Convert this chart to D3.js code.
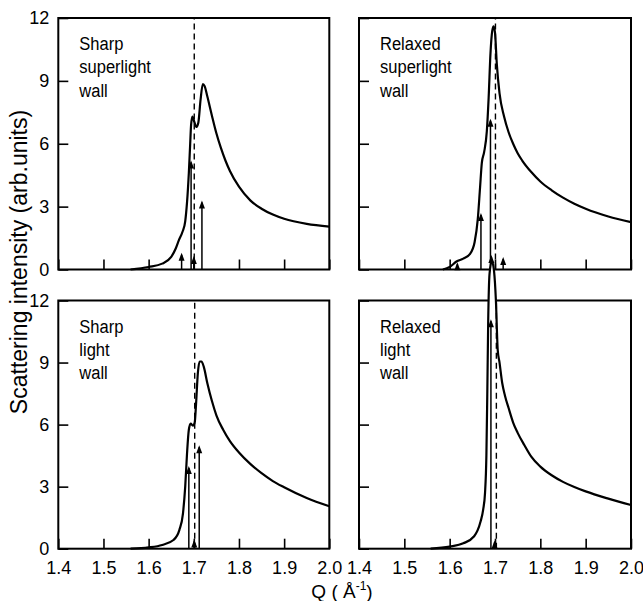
<!DOCTYPE html>
<html><head><meta charset="utf-8">
<script src="https://cdn.jsdelivr.net/npm/d3@7/dist/d3.min.js"></script>
<style>body{margin:0;background:#fff}</style>
</head><body>
<svg id="c" width="643" height="601"></svg>
<script>
// ---------- data ----------
const xTicks = [1.4, 1.5, 1.6, 1.7, 1.8, 1.9, 2.0];
const yTicks = [0, 3, 6, 9, 12];
const xTickLabels = ["1.4", "1.5", "1.6", "1.7", "1.8", "1.9", "2.0"];
const yTickLabels = ["0", "3", "6", "9", "12"];
const panelNames = [
  ["Sharp", "superlight", "wall"],
  ["Relaxed", "superlight", "wall"],
  ["Sharp", "light", "wall"],
  ["Relaxed", "light", "wall"]
];

// Sharp superlight wall
const qSharpSuper = [1.56, 1.60, 1.63, 1.65, 1.66, 1.667, 1.675, 1.681, 1.685, 1.689, 1.692, 1.694, 1.697, 1.701, 1.706, 1.710, 1.715, 1.720, 1.724, 1.730, 1.740, 1.750, 1.760, 1.770, 1.780, 1.800, 1.825, 1.850, 1.875, 1.900, 1.950, 2.000];
const iSharpSuper = [0, 0.12, 0.28, 0.6, 1.0, 1.4, 1.8, 2.3, 3.2, 4.6, 6.0, 6.9, 7.3, 7.05, 6.8, 7.0, 8.1, 8.85, 8.75, 8.25, 7.35, 6.5, 5.8, 5.2, 4.7, 3.95, 3.3, 2.9, 2.62, 2.42, 2.18, 2.05];
const sqSharpSuper = [1.673, 1.694, 1.700, 1.718];
const siSharpSuper = [0.7, 5.1, 0.55, 3.2];

// Relaxed superlight wall
const qRelaxSuper = [1.585, 1.60, 1.615, 1.63, 1.645, 1.655, 1.662, 1.667, 1.671, 1.676, 1.682, 1.686, 1.690, 1.694, 1.697, 1.700, 1.704, 1.710, 1.720, 1.730, 1.740, 1.750, 1.760, 1.780, 1.800, 1.825, 1.850, 1.875, 1.900, 1.950, 2.000];
const iRelaxSuper = [0, 0.12, 0.38, 0.52, 0.75, 1.3, 2.4, 3.9, 5.1, 5.6, 6.6, 8.2, 10.3, 11.4, 11.6, 11.3, 9.8, 8.4, 7.3, 6.55, 6.0, 5.55, 5.2, 4.65, 4.2, 3.78, 3.43, 3.14, 2.9, 2.53, 2.26];
const sqRelaxSuper = [1.617, 1.669, 1.690, 1.692, 1.718];
const siRelaxSuper = [0.25, 2.6, 7.1, 0.6, 0.5];

// Sharp light wall
const qSharpLight = [1.56, 1.60, 1.63, 1.655, 1.668, 1.676, 1.681, 1.685, 1.689, 1.693, 1.698, 1.702, 1.705, 1.709, 1.713, 1.717, 1.722, 1.730, 1.740, 1.750, 1.765, 1.780, 1.800, 1.825, 1.850, 1.875, 1.900, 1.950, 2.000];
const iSharpLight = [0, 0.06, 0.18, 0.42, 0.9, 1.7, 3.0, 4.6, 5.75, 6.05, 5.95, 6.1, 7.0, 8.5, 9.05, 9.05, 8.8, 8.0, 7.15, 6.45, 5.75, 5.2, 4.65, 4.1, 3.65, 3.27, 2.97, 2.45, 2.05];
const sqSharpLight = [1.689, 1.701, 1.712];
const siSharpLight = [3.9, 0.35, 4.9];

// Relaxed light wall
const qRelaxLight = [1.558, 1.60, 1.63, 1.654, 1.668, 1.674, 1.678, 1.681, 1.683, 1.685, 1.688, 1.693, 1.698, 1.702, 1.706, 1.710, 1.716, 1.722, 1.730, 1.740, 1.750, 1.765, 1.780, 1.800, 1.825, 1.850, 1.875, 1.900, 1.950, 2.000];
const iRelaxLight = [0, 0.1, 0.26, 0.6, 1.3, 1.9, 2.7, 4.5, 7.5, 11.0, 13.3, 13.9, 13.4, 12.0, 9.6, 9.0, 8.0, 7.4, 6.8, 6.1, 5.6, 5.0, 4.45, 3.97, 3.55, 3.23, 2.98, 2.77, 2.42, 2.11];
const sqRelaxLight = [1.691, 1.699];
const siRelaxLight = [11.0, 0.3];

// position of the dashed reference line (Q) in each panel
const dashQ = [1.701, 1.701, 1.702, 1.703];

// ---------- layout ----------
const curves = [[qSharpSuper, iSharpSuper], [qRelaxSuper, iRelaxSuper], [qSharpLight, iSharpLight], [qRelaxLight, iRelaxLight]];
const sticks = [[sqSharpSuper, siSharpSuper], [sqRelaxSuper, siRelaxSuper], [sqSharpLight, siSharpLight], [sqRelaxLight, siRelaxLight]];
const cols = [[58.3, 329.3], [359, 631]];
const rows = [[18, 269.5], [300.5, 548.7]];
const FONT = "'Liberation Sans', Arial, sans-serif";

const svg = d3.select("#c");

panelNames.forEach((names, p) => {
  const col = p % 2, row = Math.floor(p / 2);
  const x = d3.scaleLinear().domain([1.4, 2.0]).range(cols[col]);
  const y = d3.scaleLinear().domain([0, 12]).range([rows[row][1], rows[row][0]]);
  const g = svg.append("g");

  // frame
  g.append("rect")
    .attr("x", x(1.4)).attr("y", y(12))
    .attr("width", x(2.0) - x(1.4)).attr("height", y(0) - y(12))
    .attr("fill", "none").attr("stroke", "#000").attr("stroke-width", 2);

  // x axis
  const xa = d3.axisBottom(x).tickValues(xTicks).tickSizeInner(-10).tickSizeOuter(0).tickPadding(13)
    .tickFormat((d, i) => row === 1 ? xTickLabels[i] : "");
  const gx = g.append("g").attr("transform", `translate(0,${y(0)})`).call(xa);
  gx.select(".domain").remove();
  gx.selectAll("line").attr("stroke-width", 1.6);
  gx.selectAll("text").attr("font-family", FONT).attr("font-size", 18).attr("fill", "#000");

  // y axis
  const ya = d3.axisLeft(y).tickValues(yTicks).tickSizeInner(-10).tickSizeOuter(0).tickPadding(9)
    .tickFormat((d, i) => col === 0 ? yTickLabels[i] : "");
  const gy = g.append("g").attr("transform", `translate(${x(1.4)},0)`).call(ya);
  gy.select(".domain").remove();
  gy.selectAll("line").attr("stroke-width", 1.6);
  gy.selectAll("text").attr("font-family", FONT).attr("font-size", 18).attr("fill", "#000");

  // dashed line
  g.append("line")
    .attr("x1", x(dashQ[p])).attr("x2", x(dashQ[p]))
    .attr("y1", y(0)).attr("y2", y(12))
    .attr("stroke", "#000").attr("stroke-width", 1.4).attr("stroke-dasharray", "6,4");

  // sticks with arrowheads
  const [sq, si] = sticks[p];
  sq.forEach((q, k) => {
    const sx = x(q), sy = y(si[k]);
    g.append("line").attr("x1", sx).attr("x2", sx).attr("y1", y(0)).attr("y2", sy)
      .attr("stroke", "#000").attr("stroke-width", 1.5);
    g.append("path")
      .attr("d", `M${sx},${sy - 2}L${sx - 3},${sy + 6}L${sx + 3},${sy + 6}Z`)
      .attr("fill", "#000");
  });

  // curve
  const [cq, ci] = curves[p];
  const pts = cq.map((q, k) => [q, ci[k]]);
  // white out frame where the curve pokes above the panel
  const clipId = "clipTop" + p;
  svg.append("clipPath").attr("id", clipId).append("rect")
    .attr("x", x(1.4)).attr("y", 0).attr("width", x(2.0) - x(1.4)).attr("height", y(12) + 1.5);
  g.append("path").datum(pts)
    .attr("clip-path", `url(#${clipId})`)
    .attr("d", d3.area().x(d => x(d[0])).y0(y(0)).y1(d => y(d[1])).curve(d3.curveMonotoneX))
    .attr("fill", "#fff");
  g.append("path").datum(pts)
    .attr("d", d3.line().x(d => x(d[0])).y(d => y(d[1])).curve(d3.curveMonotoneX))
    .attr("fill", "none").attr("stroke", "#000").attr("stroke-width", 2.2).attr("stroke-linejoin", "round");

  // panel label (slightly condensed like the original lettering)
  const t = g.append("text")
    .attr("transform", `translate(${x(1.4) + 21},${y(12) + 32}) scale(0.87,1)`)
    .attr("font-family", FONT).attr("font-size", 19).attr("fill", "#000");
  names.forEach((n, k) => {
    t.append("tspan").attr("x", 0).attr("y", k * 23.5).text(n);
  });
});

// axis titles
svg.append("text")
  .attr("transform", "translate(27,262) rotate(-90)")
  .attr("text-anchor", "middle").attr("font-family", FONT).attr("font-size", 23).attr("fill", "#000")
  .text("Scattering intensity (arb.units)");

const xt = svg.append("text")
  .attr("x", 342).attr("y", 598).attr("text-anchor", "middle")
  .attr("font-family", FONT).attr("font-size", 19).attr("fill", "#000");
xt.append("tspan").text("Q ( Å");
xt.append("tspan").attr("font-size", 12).attr("dy", -8).text("-1");
xt.append("tspan").attr("dy", 8).text(")");
</script>
</body></html>
